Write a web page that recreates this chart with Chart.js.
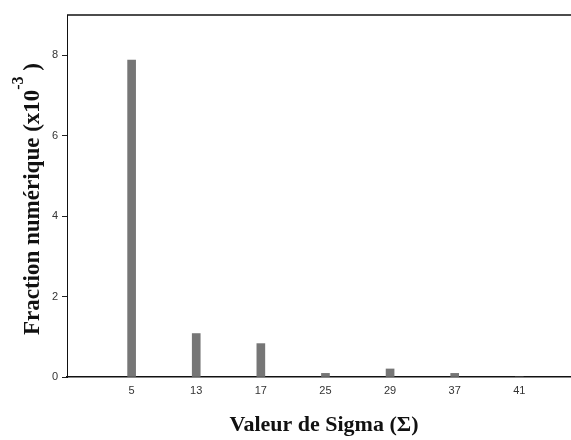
<!DOCTYPE html>
<html>
<head>
<meta charset="utf-8">
<script src="https://cdn.jsdelivr.net/npm/chart.js@4/dist/chart.umd.min.js"></script>
<style>
  html, body { margin: 0; padding: 0; background: #fff; }
  #wrap { width: 571px; height: 440px; }
</style>
</head>
<body>
<div id="wrap"><canvas id="sigmaChart" width="571" height="440"></canvas></div>
<script>
// valeurs de Sigma et fraction numérique (x10^-3)
const sigmaLabels = ['5', '13', '17', '25', '29', '37', '41'];
const fractionValues = [7.88, 1.08, 0.83, 0.09, 0.2, 0.09, 0];
const yTickValues = [0, 2, 4, 6, 8];

const points = sigmaLabels.map((s, i) => ({ x: i + 1, y: fractionValues[i] }));

// titres des axes + trait du haut
const titresPlugin = {
    id: 'titres',
    afterDraw(chart) {
        const ctx = chart.ctx;
        const area = chart.chartArea;
        ctx.save();

        ctx.strokeStyle = '#111';
        ctx.lineWidth = 1.5;
        ctx.beginPath();
        ctx.moveTo(area.left, area.top);
        ctx.lineTo(chart.width, area.top);
        ctx.stroke();

        ctx.fillStyle = '#111';
        ctx.textBaseline = 'middle';
        ctx.textAlign = 'center';
        ctx.font = 'bold 22px "Liberation Serif"';
        ctx.fillText('Valeur de Sigma (\u03A3)', 324, 425);

        // titre vertical avec exposant
        ctx.translate(33, 199);
        ctx.rotate(-Math.PI / 2);
        const partA = 'Fraction numérique (x10';
        const partB = ' )';
        const exp = '-3';
        ctx.font = 'bold 23px "Liberation Serif"';
        const wA = ctx.measureText(partA).width;
        const wB = ctx.measureText(partB).width;
        ctx.font = 'bold 16px "Liberation Serif"';
        const wE = ctx.measureText(exp).width;
        let x = -(wA + wE + wB) / 2;
        ctx.textAlign = 'left';
        ctx.font = 'bold 23px "Liberation Serif"';
        ctx.fillText(partA, x, 0);
        x += wA;
        ctx.font = 'bold 16px "Liberation Serif"';
        ctx.fillText(exp, x, -14);
        x += wE;
        ctx.font = 'bold 23px "Liberation Serif"';
        ctx.fillText(partB, x, 0);

        ctx.restore();
    }
};

new Chart(document.getElementById('sigmaChart'), {
    type: 'bar',
    data: {
        datasets: [{
            data: points,
            backgroundColor: 'rgb(118,118,118)',
            borderWidth: 0,
            barThickness: 8
        }]
    },
    options: {
        responsive: false,
        animation: false,
        layout: { padding: { top: 15, right: 0, left: 0, bottom: 0 } },
        plugins: {
            legend: { display: false },
            tooltip: { enabled: false }
        },
        scales: {
            x: {
                type: 'linear',
                min: 0,
                max: 7.8,
                offset: false,
                afterBuildTicks: (scale) => {
                    scale.ticks = sigmaLabels.map((s, i) => ({ value: i + 1 }));
                },
                afterFit: (scale) => { scale.height = 63; },
                grid: { display: false, drawTicks: false, offset: false },
                border: { color: '#111', width: 1.5 },
                ticks: {
                    padding: 7,
                    color: '#333',
                    font: { family: 'Liberation Sans', size: 11 },
                    callback: (v) => sigmaLabels[v - 1]
                }
            },
            y: {
                min: 0,
                max: 9,
                afterBuildTicks: (scale) => {
                    scale.ticks = yTickValues.map(v => ({ value: v }));
                },
                afterFit: (scale) => { scale.width = 67; },
                grid: {
                    drawOnChartArea: false,
                    drawTicks: true,
                    tickLength: 5,
                    color: '#222'
                },
                border: { color: '#111', width: 1 },
                ticks: {
                    padding: 4,
                    color: '#333',
                    font: { family: 'Liberation Sans', size: 11 }
                }
            }
        }
    },
    plugins: [titresPlugin]
});
</script>
</body>
</html>
